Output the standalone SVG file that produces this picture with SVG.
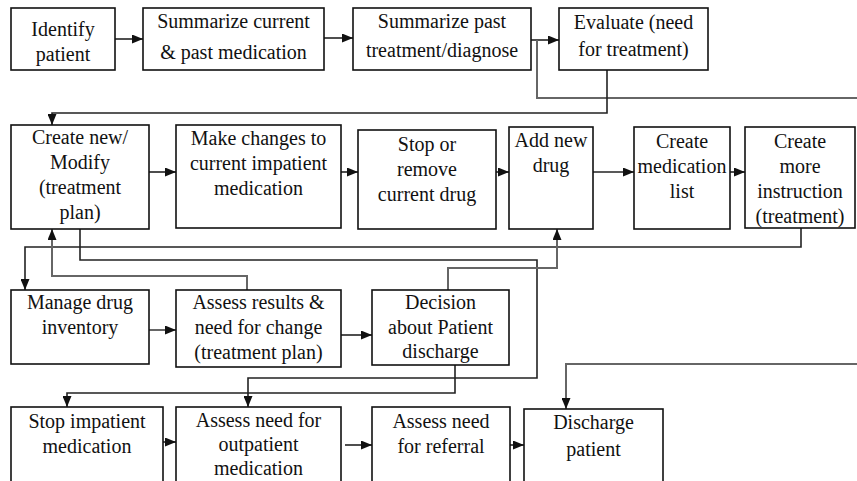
<svg xmlns="http://www.w3.org/2000/svg" width="857" height="481" viewBox="0 0 857 481">
<style>
.box{fill:#fff;stroke:#111;stroke-width:1.6}
.t{font-family:'Liberation Serif','DejaVu Serif','Times New Roman',Times,serif;font-size:20px;fill:#111;text-anchor:middle}
.c{fill:none;stroke:#222;stroke-width:1.6}
.g{fill:none;stroke:#666;stroke-width:2}
.a{marker-end:url(#ah)}
</style>
<defs>
<marker id="ah" markerUnits="userSpaceOnUse" markerWidth="11" markerHeight="9" refX="11" refY="4.5" orient="auto">
<path d="M0,0 L11,4.5 L0,9 z" fill="#111"/>
</marker>
</defs>
<rect width="857" height="481" fill="#fff"/>
<g id="connectors">
<path class="c a" d="M115,39 H143"/>
<path class="c a" d="M324,38 H353"/>
<path class="c a" d="M531,40 H559"/>
<path class="g" d="M537,40 V98 H857"/>
<path class="c a" d="M607,70 V113 H52 V125"/>
<path class="c a" d="M149,172 H176"/>
<path class="c a" d="M341,172 H358"/>
<path class="c a" d="M496,172 H509"/>
<path class="c a" d="M593,172 H634"/>
<path class="c a" d="M730,172 H745"/>
<path class="c a" d="M801,228 V247 H25 V290"/>
<path class="c a" d="M80,229 V260 H537 V378 H248 V407"/>
<path class="g a" d="M247,290 V276 H52 V229"/>
<path class="g a" d="M448,290 V268 H557 V229"/>
<path class="g a" d="M149,330 H176"/>
<path class="c a" d="M341,335 H372"/>
<path class="c a" d="M455,365 V393 H67 V407"/>
<path class="g a" d="M857,364 H566 V409"/>
<path class="c a" d="M163,442 H176"/>
<path class="c a" d="M345,445 H372"/>
<path class="c a" d="M510,445 H524"/>
</g>
<g font-family="Liberation Serif, DejaVu Serif, serif">
<g id="identify"><rect class="box" x="11" y="8" width="104" height="62"/><text class="t" x="63" y="36">Identify</text><text class="t" x="63" y="61">patient</text></g>
<g id="sumcur"><rect class="box" x="143" y="8" width="181" height="62"/><text class="t" x="233.5" y="28">Summarize current</text><text class="t" x="233.5" y="59">&amp; past medication</text></g>
<g id="sumpast"><rect class="box" x="353" y="8" width="178" height="62"/><text class="t" x="442" y="28">Summarize past</text><text class="t" x="442" y="57">treatment/diagnose</text></g>
<g id="evaluate"><rect class="box" x="559" y="8" width="149" height="62"/><text class="t" x="633.5" y="29">Evaluate (need</text><text class="t" x="633.5" y="56">for treatment)</text></g>
<g id="createnew"><rect class="box" x="11" y="125" width="138" height="104"/><text class="t" x="80" y="144">Create new/</text><text class="t" x="80" y="169">Modify</text><text class="t" x="80" y="194">(treatment</text><text class="t" x="80" y="219">plan)</text></g>
<g id="makechanges"><rect class="box" x="176" y="125" width="165" height="103"/><text class="t" x="258.5" y="145">Make changes to</text><text class="t" x="258.5" y="170">current impatient</text><text class="t" x="258.5" y="195">medication</text></g>
<g id="stopremove"><rect class="box" x="358" y="130" width="138" height="99"/><text class="t" x="427" y="151">Stop or</text><text class="t" x="427" y="176">remove</text><text class="t" x="427" y="201">current drug</text></g>
<g id="addnew"><rect class="box" x="509" y="127" width="84" height="102"/><text class="t" x="551" y="147">Add new</text><text class="t" x="551" y="172">drug</text></g>
<g id="medlist"><rect class="box" x="634" y="127" width="96" height="102"/><text class="t" x="682" y="148">Create</text><text class="t" x="682" y="173">medication</text><text class="t" x="682" y="198">list</text></g>
<g id="instruction"><rect class="box" x="745" y="127" width="110" height="101"/><text class="t" x="800" y="148">Create</text><text class="t" x="800" y="173">more</text><text class="t" x="800" y="198">instruction</text><text class="t" x="800" y="223">(treatment)</text></g>
<g id="manage"><rect class="box" x="11" y="290" width="138" height="74"/><text class="t" x="80" y="309">Manage drug</text><text class="t" x="80" y="334">inventory</text></g>
<g id="assessres"><rect class="box" x="176" y="290" width="165" height="77"/><text class="t" x="258.5" y="309">Assess results &amp;</text><text class="t" x="258.5" y="334">need for change</text><text class="t" x="258.5" y="359">(treatment plan)</text></g>
<g id="decision"><rect class="box" x="372" y="290" width="137" height="75"/><text class="t" x="440.5" y="309">Decision</text><text class="t" x="440.5" y="334">about Patient</text><text class="t" x="440.5" y="358">discharge</text></g>
<g id="stopimp"><rect class="box" x="11" y="407" width="152" height="80"/><text class="t" x="87" y="428">Stop impatient</text><text class="t" x="87" y="453">medication</text></g>
<g id="outpatient"><rect class="box" x="176" y="407" width="165" height="80"/><text class="t" x="258.5" y="427">Assess need for</text><text class="t" x="258.5" y="451">outpatient</text><text class="t" x="258.5" y="475">medication</text></g>
<g id="referral"><rect class="box" x="372" y="407" width="138" height="80"/><text class="t" x="441" y="428">Assess need</text><text class="t" x="441" y="453">for referral</text></g>
<g id="discharge"><rect class="box" x="524" y="409" width="139" height="80"/><text class="t" x="593.5" y="429">Discharge</text><text class="t" x="593.5" y="456">patient</text></g>
</g>
</svg>
